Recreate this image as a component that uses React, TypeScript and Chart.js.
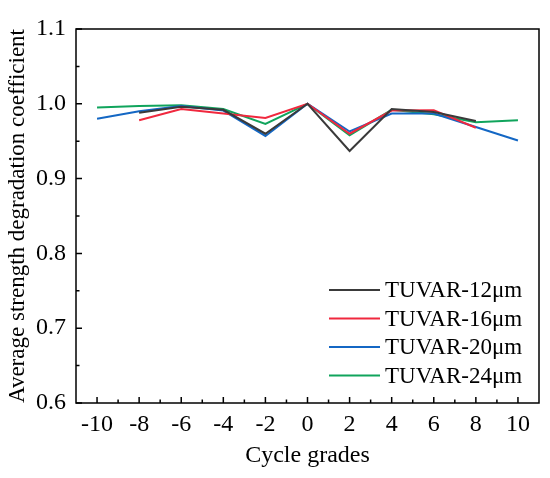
import { useEffect, useRef } from 'react';
import { Chart, registerables, ChartConfiguration, Plugin } from 'chart.js';

Chart.register(...registerables);

// data
const cycleGrades = [-10, -8, -6, -4, -2, 0, 2, 4, 6, 8, 10];
const seriesNames = ['TUVAR-12μm', 'TUVAR-16μm', 'TUVAR-20μm', 'TUVAR-24μm'];
const tuvar12 = [null, 0.988, 0.996, 0.992, 0.960, 1.0, 0.937, 0.993, 0.989, 0.977, null];
const tuvar16 = [null, 0.978, 0.993, 0.987, 0.981, 1.0, 0.960, 0.991, 0.9915, 0.968, null];
const tuvar20 = [0.980, 0.990, 0.997, 0.991, 0.957, 1.0, 0.963, 0.987, 0.987, 0.969, 0.951];
const tuvar24 = [0.995, 0.997, 0.998, 0.993, 0.973, 1.0, 0.958, 0.992, 0.986, 0.9755, 0.978];
const seriesColors = ['#3a3a3a', '#f0283e', '#1467c4', '#10a45c'];
const xTicks = [-10, -8, -6, -4, -2, 0, 2, 4, 6, 8, 10];
const xMinorTicks = [-9, -7, -5, -3, -1, 1, 3, 5, 7, 9];
const yTicks = [0.6, 0.7, 0.8, 0.9, 1.0, 1.1];
const yMinorTicks = [0.65, 0.75, 0.85, 0.95, 1.05];

const FONT = "'Liberation Serif', 'Times New Roman', serif";

// frame, inward ticks and the in-plot legend
const framePlugin: Plugin<'line'> = {
  id: 'frame',
  afterDraw(chart) {
    const { ctx, chartArea: a, scales } = chart;
    const x = scales.x;
    const y = scales.y;
    ctx.save();
    ctx.strokeStyle = '#000';
    ctx.lineWidth = 1.5;
    ctx.strokeRect(a.left, a.top, a.right - a.left, a.bottom - a.top);
    ctx.beginPath();
    xTicks.forEach((v) => {
      const px = x.getPixelForValue(v);
      ctx.moveTo(px, a.bottom);
      ctx.lineTo(px, a.bottom - 6);
    });
    xMinorTicks.forEach((v) => {
      const px = x.getPixelForValue(v);
      ctx.moveTo(px, a.bottom);
      ctx.lineTo(px, a.bottom - 3.5);
    });
    yTicks.forEach((v) => {
      const py = y.getPixelForValue(v);
      ctx.moveTo(a.left, py);
      ctx.lineTo(a.left + 6, py);
    });
    yMinorTicks.forEach((v) => {
      const py = y.getPixelForValue(v);
      ctx.moveTo(a.left, py);
      ctx.lineTo(a.left + 3.5, py);
    });
    ctx.stroke();

    // legend, lower right of the plot
    ctx.font = `23px ${FONT}`;
    ctx.textBaseline = 'middle';
    ctx.fillStyle = '#000';
    seriesNames.forEach((name, i) => {
      const rowY = a.bottom - 113 + i * 28.5;
      ctx.strokeStyle = seriesColors[i];
      ctx.lineWidth = 2;
      ctx.beginPath();
      ctx.moveTo(a.right - 210, rowY);
      ctx.lineTo(a.right - 159, rowY);
      ctx.stroke();
      ctx.fillText(name, a.right - 154, rowY + 1);
    });
    ctx.restore();
  },
};

export default function App() {
  const chartRef = useRef<HTMLCanvasElement>(null);
  const chartInstanceRef = useRef<Chart | null>(null);

  useEffect(() => {
    if (!chartRef.current) return;
    if (chartInstanceRef.current) {
      chartInstanceRef.current.destroy();
    }
    const ctx = chartRef.current.getContext('2d');
    if (!ctx) return;

    const allSeries = [tuvar12, tuvar16, tuvar20, tuvar24];

    chartInstanceRef.current = new Chart(ctx, {
      type: 'line',
      data: {
        datasets: allSeries.map((values, i) => ({
          label: seriesNames[i],
          data: cycleGrades.map((g, j) => ({ x: g, y: values[j] })),
          borderColor: seriesColors[i],
          backgroundColor: seriesColors[i],
          borderWidth: 2,
          pointRadius: 0,
          tension: 0,
          spanGaps: false,
        })),
      },
      options: {
        responsive: true,
        maintainAspectRatio: false,
        animation: false,
        layout: { padding: { left: 0, right: 11, top: 29, bottom: 0 } },
        plugins: {
          legend: { display: false },
          tooltip: { enabled: false },
        },
        scales: {
          x: {
            type: 'linear',
            min: -11,
            max: 11,
            afterBuildTicks: (axis: any) => {
              axis.ticks = xTicks.map((v) => ({ value: v }));
            },
            afterFit: (axis: any) => {
              axis.height = 75;
            },
            grid: { display: false, drawTicks: false },
            border: { display: false },
            ticks: {
              color: '#000',
              padding: 7,
              maxRotation: 0,
              font: { family: FONT, size: 24 },
              callback: (v: any) => String(v),
            },
            title: {
              display: true,
              text: 'Cycle grades',
              color: '#000',
              font: { family: FONT, size: 24 },
              padding: { top: 4, bottom: 8 },
            },
          },
          y: {
            min: 0.6,
            max: 1.1,
            afterBuildTicks: (axis: any) => {
              axis.ticks = yTicks.map((v) => ({ value: v }));
            },
            afterFit: (axis: any) => {
              axis.width = 76;
            },
            grid: { display: false, drawTicks: false },
            border: { display: false },
            ticks: {
              color: '#000',
              padding: 10,
              font: { family: FONT, size: 24 },
              callback: (v: any) => Number(v).toFixed(1),
            },
            title: {
              display: true,
              text: 'Average strength degradation coefficient',
              color: '#000',
              font: { family: FONT, size: 23 },
              padding: { top: 4, bottom: 2 },
            },
          },
        },
      },
      plugins: [framePlugin],
    } as ChartConfiguration<'line'>);

    return () => {
      if (chartInstanceRef.current) {
        chartInstanceRef.current.destroy();
        chartInstanceRef.current = null;
      }
    };
  }, []);

  return (
    <div style={{ position: 'fixed', left: 0, top: 0, width: 550, height: 478, background: '#fff' }}>
      <canvas ref={chartRef} />
    </div>
  );
}
